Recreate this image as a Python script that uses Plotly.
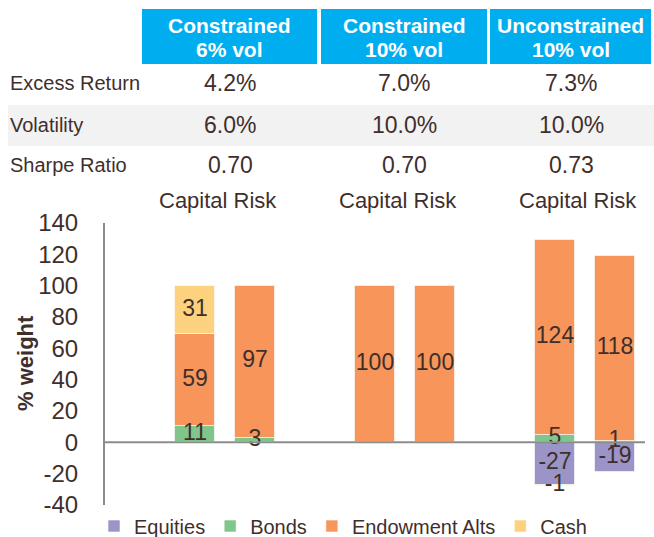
import plotly.graph_objects as go

# ---------------- data ----------------
groups = ["Constrained<br>6% vol", "Constrained<br>10% vol", "Unconstrained<br>10% vol"]
row_labels = ["Excess Return", "Volatility", "Sharpe Ratio"]
excess_return = ["4.2%", "7.0%", "7.3%"]
volatility = ["6.0%", "10.0%", "10.0%"]
sharpe = ["0.70", "0.70", "0.73"]
sub_label = "Capital Risk"
y_title = "% weight"

series = ["Equities", "Bonds", "Endowment Alts", "Cash"]
equities = [None, None, None, None, -27, -19]
bonds = [10.6, 3, None, None, 5, 1]
endowment = [58.6, 97, 100, 100, 124, 118]
cash = [30.8, None, None, None, -1, None]
colors = ["#9B94C6", "#80C58B", "#F7955A", "#FDD27F"]

y_ticks = [-40, -20, 0, 20, 40, 60, 80, 100, 120, 140]
y_tick_text = [str(v) for v in y_ticks]

# ---------------- layout helpers ----------------
W, H = 654, 537
L, R, T, B = 105, 645, 223, 505
TXT = "#3F2F2C"
FONT = "Liberation Sans, Arial, sans-serif"


def px(xp):
    return (xp - L) / (R - L)


def py(yp):
    return (B - yp) / (B - T)


# bar slots: two bars per group, one empty slot before each group
bar_x = [g * 3 + 1 + j for g in range(len(groups)) for j in range(2)]

fig = go.Figure()
all_vals = [equities, bonds, endowment, cash]
for name, vals, col in zip(series, all_vals, colors):
    fig.add_trace(go.Bar(
        x=bar_x, y=vals, name=name, width=0.67,
        marker=dict(color=col, line=dict(color="rgba(255,255,255,0.6)", width=1)),
        hoverinfo="skip",
    ))

# labels on top of all bars, centred in each stacked segment
lab_x, lab_y, lab_t = [], [], []
for i, xv in enumerate(bar_x):
    pos, neg = 0.0, 0.0
    for vals in all_vals:
        v = vals[i]
        if v is None:
            continue
        if v >= 0:
            mid = pos + v / 2
            pos += v
        else:
            mid = neg + v / 2
            neg += v
        lab_x.append(xv)
        lab_y.append(mid)
        lab_t.append(f"{v:.0f}")
fig.add_trace(go.Scatter(
    x=lab_x, y=lab_y, text=lab_t, mode="text", showlegend=False, hoverinfo="skip",
    textfont=dict(size=23, color=TXT, family=FONT), cliponaxis=False,
))

shapes = []
annotations = []

# header boxes
box_px = [(142, 317), (321, 487), (490, 651)]
for (x0, x1), g in zip(box_px, groups):
    shapes.append(dict(type="rect", xref="paper", yref="paper",
                       x0=px(x0), x1=px(x1), y0=py(64), y1=py(9),
                       fillcolor="#00AEEF", line=dict(width=0), layer="below"))
    for line, yc in zip(g.split("<br>"), (25, 49)):
        annotations.append(dict(xref="paper", yref="paper", x=px((x0 + x1) / 2), y=py(yc),
                                text=line, showarrow=False, xanchor="center", yanchor="middle",
                                font=dict(size=21, color="white", family=FONT, weight="bold")))

# grey band for volatility row
shapes.append(dict(type="rect", xref="paper", yref="paper",
                   x0=px(8), x1=px(654), y0=py(146), y1=py(105),
                   fillcolor="#F2F2F2", line=dict(width=0), layer="below"))

row_y = [83, 125, 165]
col_x = [230, 404, 571]
for lab, yc in zip(row_labels, row_y):
    annotations.append(dict(xref="paper", yref="paper", x=px(8), y=py(yc), text=lab,
                            showarrow=False, xanchor="left", yanchor="middle",
                            font=dict(size=20, color=TXT, family=FONT)))
for vals, yc in zip([excess_return, volatility, sharpe], row_y):
    for v, xc in zip(vals, col_x):
        annotations.append(dict(xref="paper", yref="paper", x=px(xc), y=py(yc), text=v,
                                showarrow=False, xanchor="center", yanchor="middle",
                                font=dict(size=23, color=TXT, family=FONT)))

for g in range(len(groups)):
    annotations.append(dict(xref="x", yref="paper", x=g * 3 + 1.5, xshift=-7, y=py(200),
                            text=sub_label, showarrow=False, xanchor="center", yanchor="middle",
                            font=dict(size=22, color=TXT, family=FONT)))

# y-axis title
annotations.append(dict(xref="paper", yref="paper", x=px(25), y=py(363), text=y_title,
                        textangle=-90, showarrow=False, xanchor="center", yanchor="middle",
                        font=dict(size=22, color=TXT, family=FONT, weight="bold")))

# zero line above bars
shapes.append(dict(type="line", xref="paper", yref="y", x0=0, x1=1, y0=0, y1=0,
                   line=dict(color="#8C8C8C", width=2), layer="above"))

fig.update_layout(
    width=W, height=H,
    margin=dict(l=L, r=W - R, t=T, b=H - B, pad=0, autoexpand=False),
    paper_bgcolor="white", plot_bgcolor="white",
    barmode="relative", bargap=0,
    font=dict(family=FONT, color=TXT),
    showlegend=True,
    legend=dict(orientation="h", x=px(94), xanchor="left", y=py(526), yanchor="middle",
                font=dict(size=20, color=TXT, family=FONT), itemwidth=30,
                bgcolor="rgba(0,0,0,0)", tracegroupgap=0),
    shapes=shapes, annotations=annotations,
    xaxis=dict(range=[-0.5, 8.5], showticklabels=False, showgrid=False, zeroline=False,
               showline=False, ticks="", fixedrange=True, automargin=False),
    yaxis=dict(range=[-40, 140], tickvals=y_ticks, ticktext=y_tick_text,
               showgrid=False, zeroline=False, automargin=False,
               showline=True, linecolor="#8C8C8C", linewidth=2, ticks="",
               ticklabelstandoff=20,
               tickfont=dict(size=24, color=TXT, family=FONT)),
)

fig.write_html("out.html", config={"displayModeBar": False},
               post_script="document.body.style.margin='0px';")
